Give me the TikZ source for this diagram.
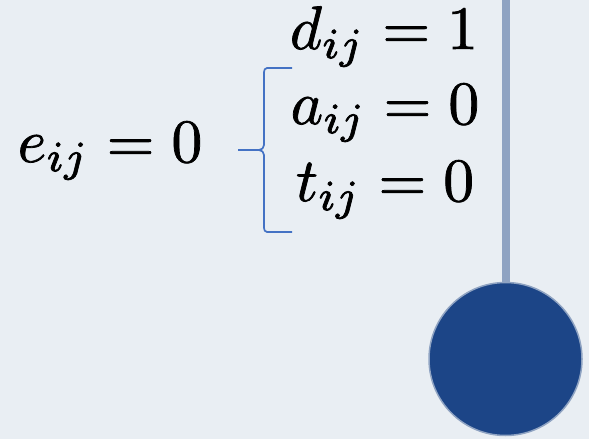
\documentclass[tikz,border=0pt]{standalone}
\usepackage{graphicx}
\usepackage{amsmath}
\definecolor{bgc}{HTML}{E9EEF3}
\definecolor{bracec}{HTML}{4472C4}
\definecolor{stemc}{HTML}{8FA3C2}
\definecolor{ballc}{HTML}{1C4587}
\definecolor{ballb}{HTML}{8FA3C2}
\newcommand{\bigeq}[1]{\scalebox{6.15}{\special{pdf:literal 2 Tr 0.12 w}$#1$\special{pdf:literal 0 Tr}}}
\begin{document}
\begin{tikzpicture}[x=1pt,y=-1pt,
  eq/.style={anchor=base,inner sep=0pt}]
\fill[bgc] (0,0) rectangle (589,439);
\useasboundingbox (0,0) rectangle (589,439);
\node[eq] (e) at (110,162) {\bigeq{e_{ij}=0}};
\node[eq] (d) at (384,49) {\bigeq{d_{ij}=1}};
\node[eq] (a) at (385,124) {\bigeq{a_{ij}=0}};
\node[eq] (t) at (385,201) {\bigeq{t_{ij}=0}};
\node[circle,fill=ballc,draw=ballb,line width=1.5pt,minimum size=153pt,inner sep=0pt] (ball) at (505.5,359) {};
\coordinate (top) at (505.5,0);
\draw[stemc,line width=8pt] (top) -- (ball.north);
\draw[bracec,line width=1.7pt,line join=round]
  (292,68) -- (267,68) to[out=180,in=90] (264,72) -- (264,145)
  to[out=-90,in=0] (259,150) -- (238,150)
  (259,150) to[out=0,in=90] (264,155) -- (264,228)
  to[out=-90,in=180] (267,232) -- (292,232);
\end{tikzpicture}
\end{document}
